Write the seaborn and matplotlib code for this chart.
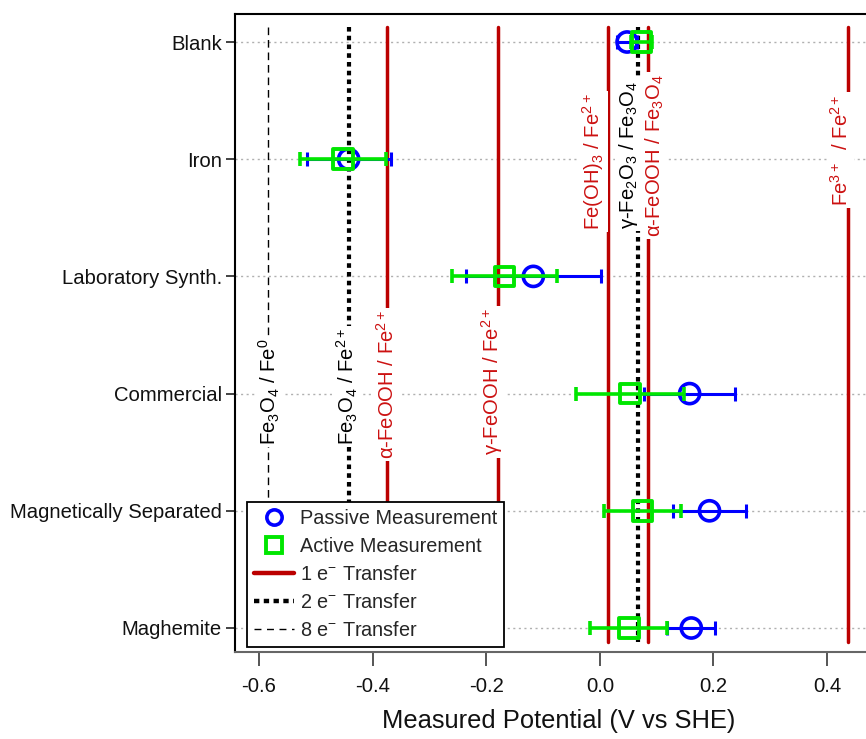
import numpy as np
import pandas as pd
import matplotlib
matplotlib.use("Agg")
import matplotlib.pyplot as plt
from matplotlib.lines import Line2D
import seaborn as sns

# ---------------- data ----------------
categories = ["Blank", "Iron", "Laboratory Synth.", "Commercial",
              "Magnetically Separated", "Maghemite"]
passive_mean = [0.048, -0.442, -0.117, 0.158, 0.193, 0.161]
passive_err = [0.017, 0.074, 0.119, 0.080, 0.065, 0.042]
active_mean = [0.073, -0.452, -0.168, 0.053, 0.075, 0.051]
active_err = [0.018, 0.076, 0.093, 0.095, 0.068, 0.068]

# reference redox potentials (V vs SHE)
ref_potentials = [-0.584, -0.441, -0.375, -0.180, 0.014, 0.0675, 0.085, 0.4365]
ref_electrons = [8, 2, 1, 1, 1, 2, 1, 1]
ref_labels = [r"Fe$_3$O$_4$ / Fe$^0$",
              r"Fe$_3$O$_4$ / Fe$^{2+}$",
              r"α-FeOOH / Fe$^{2+}$",
              r"γ-FeOOH / Fe$^{2+}$",
              r"Fe(OH)$_3$ / Fe$^{2+}$",
              r"γ-Fe$_2$O$_3$ / Fe$_3$O$_4$",
              r"α-FeOOH / Fe$_3$O$_4$",
              r"Fe$^{3+}$  / Fe$^{2+}$"]
label_x = [-0.581, -0.445, -0.375, -0.190, -0.012, 0.051, 0.097, 0.424]
label_y = [2.98, 2.94, 2.92, 2.90, 1.02, 0.96, 0.97, 0.92]

xticks = [-0.6, -0.4, -0.2, 0.0, 0.2, 0.4]

# ---------------- style ----------------
sns.set_theme(style="white")
plt.rcParams["font.family"] = ["Liberation Sans", "DejaVu Sans"]
plt.rcParams["mathtext.fontset"] = "custom"
plt.rcParams["mathtext.rm"] = "Liberation Sans"
plt.rcParams["mathtext.it"] = "Liberation Sans:italic"
plt.rcParams["mathtext.bf"] = "Liberation Sans:bold"
plt.rcParams["axes.unicode_minus"] = False

BLUE = "#0000ff"
GREEN = "#00e600"
RED_LINE = "#bb0000"
RED_TEXT = "#cc1111"
FS = 14.6

fig = plt.figure(figsize=(8.66, 7.39), dpi=100)
# axes continues slightly past the right edge of the figure (as in the reference)
ax = fig.add_axes([0.2714, 0.1177, 0.748, 0.864])

ypos = np.arange(len(categories))
df = pd.DataFrame({"cat": categories, "y": ypos,
                   "pm": passive_mean, "pe": passive_err,
                   "am": active_mean, "ae": active_err})

# grid
for y in ypos:
    ax.axhline(y, color="#b0b0b0", lw=1.0, ls=(0, (1.5, 2.5)), zorder=1)

# reference lines
styles = {1: dict(color=RED_LINE, lw=2.5, ls="-"),
          2: dict(color="black", lw=3.0, ls=(0, (1.1, 1.0)), dash_capstyle="butt"),
          8: dict(color="black", lw=1.0, ls=(0, (5.5, 3.5)))}
for xv, ne in zip(ref_potentials, ref_electrons):
    ax.plot([xv, xv], [-0.13, 5.12], zorder=2, **styles[ne])

for xv, yv, lab, ne in zip(label_x, label_y, ref_labels, ref_electrons):
    col = RED_TEXT if ne == 1 else "black"
    ax.text(xv, yv, lab, rotation=90, ha="center", va="center",
            fontsize=FS, color=col, zorder=3,
            bbox=dict(facecolor="white", edgecolor="none", pad=1.5))

# passive
ax.errorbar(df["pm"], df["y"], xerr=df["pe"], fmt="none", ecolor=BLUE,
            elinewidth=2.2, capsize=5, capthick=2.2, zorder=4)
sns.scatterplot(data=df, x="pm", y="y", ax=ax, marker="o", s=14.5 ** 2,
                facecolors="none", edgecolor=BLUE, linewidth=2.6, zorder=5,
                legend=False)
# active
ax.errorbar(df["am"], df["y"], xerr=df["ae"], fmt="none", ecolor=GREEN,
            elinewidth=2.6, capsize=5, capthick=2.6, zorder=6)
sns.scatterplot(data=df, x="am", y="y", ax=ax, marker="s", s=14 ** 2,
                facecolors="none", edgecolor=GREEN, linewidth=2.8, zorder=7,
                legend=False)

ax.set_xlim(-0.642, 0.498)
ax.set_ylim(5.205, -0.243)
ax.set_yticks(ypos)
ax.set_yticklabels(categories, fontsize=FS, color="#111111")
ax.set_xticks(xticks)
ax.set_xticklabels([f"{t:.1f}" for t in xticks], fontsize=FS, color="#111111")
ax.set_xlabel("Measured Potential (V vs SHE)", fontsize=18.4, labelpad=9, color="#111111")
ax.set_ylabel("")

ax.tick_params(axis="x", direction="out", length=10, width=1.4, color="#555555", pad=8,
               bottom=True)
ax.tick_params(axis="y", direction="out", length=6.5, width=1.2, color="#222222", pad=3,
               left=True)
ax.spines["right"].set_visible(False)
ax.spines["left"].set_color("black")
ax.spines["left"].set_linewidth(1.5)
ax.spines["top"].set_color("black")
ax.spines["top"].set_linewidth(1.5)
ax.spines["bottom"].set_color("#666666")
ax.spines["bottom"].set_linewidth(1.5)

handles = [
    Line2D([], [], ls="none", marker="o", ms=11, mfc="none", mec=BLUE, mew=2.6),
    Line2D([], [], ls="none", marker="s", ms=11, mfc="none", mec=GREEN, mew=2.8),
    Line2D([], [], color=RED_LINE, lw=3.2),
    Line2D([], [], color="black", lw=3.2, ls=(0, (1.2, 1.0)), dash_capstyle="butt"),
    Line2D([], [], color="black", lw=1.0, ls=(0, (5, 4))),
]
labels = ["Passive Measurement", "Active Measurement",
          r"1 e$^{-}$ Transfer", r"2 e$^{-}$ Transfer", r"8 e$^{-}$ Transfer"]
leg = ax.legend(handles, labels, loc="lower left", bbox_to_anchor=(0.0189, 0.0078),
                borderaxespad=0, fontsize=14.3, frameon=True, fancybox=False,
                framealpha=1, edgecolor="black", handlelength=2.0,
                handletextpad=0.3, labelspacing=0.45, borderpad=0.35)
leg.get_frame().set_linewidth(1.3)
leg.set_zorder(10)

fig.savefig("out.png", dpi=100)
